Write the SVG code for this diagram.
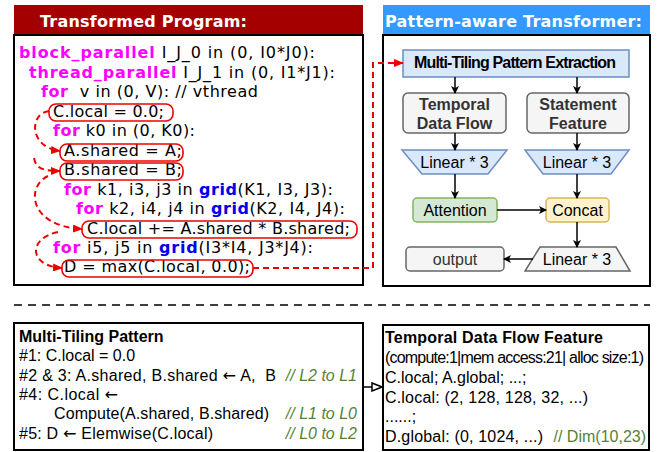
<svg xmlns="http://www.w3.org/2000/svg" width="670" height="452" viewBox="0 0 670 452">
<style>
.hdr{font-family:"DejaVu Sans",Verdana,sans-serif;font-weight:bold;font-size:16px;fill:#fff}
.code{font-family:"DejaVu Sans",Verdana,sans-serif;font-size:16px;fill:#000}
.kw{fill:#ff00ff;font-weight:bold}
.gr{fill:#0000ee;font-weight:bold}
.rbox{fill:none;stroke:#ee0000;stroke-width:1.6}
.frame{fill:#fff;stroke:#000;stroke-width:2}
.ar{font-family:"Liberation Sans",Arial,sans-serif;font-size:16px;fill:#000}
.arw{font-family:"DejaVu Sans",sans-serif}
.b{font-weight:bold}
.cm{fill:#548235;font-style:italic}
.cg{fill:#548235}
.blue{fill:#dae8fc;stroke:#6c8ebf;stroke-width:1.5}
.grey{fill:#f5f5f5;stroke:#666;stroke-width:1.5}
.conn{fill:none;stroke:#000;stroke-width:1.5;marker-end:url(#ah)}
.red{fill:none;stroke:#ee0000;stroke-width:2;stroke-dasharray:6 4;marker-end:url(#rh)}
</style>
<defs>
<marker id="ah" markerWidth="8" markerHeight="8" refX="7" refY="4" orient="auto" markerUnits="userSpaceOnUse"><path d="M0,0 L8,4 L0,8 L2,4 Z" fill="#000"/></marker>
<marker id="rh" markerWidth="10" markerHeight="8" refX="9" refY="4" orient="auto" markerUnits="userSpaceOnUse"><path d="M0,0 L10,4 L0,8 Z" fill="#ee0000"/></marker>
<marker id="oh" markerWidth="12" markerHeight="10" refX="11" refY="5" orient="auto" markerUnits="userSpaceOnUse"><path d="M1,1 L11,5 L1,9 Z" fill="#fff" stroke="#000" stroke-width="1.5"/></marker>
</defs>

<g id="program-panel">
<rect x="14" y="5" width="349" height="30" fill="#a50000"/>
<text class="hdr" x="40" y="27" textLength="207">Transformed Program:</text>
<rect class="frame" x="14" y="35" width="349" height="250"/>
<text class="code" x="19" y="58" textLength="296"><tspan class="kw">block_parallel</tspan> I_J_0 in (0, I0*J0):</text>
<text class="code" x="29" y="77.5" textLength="306"><tspan class="kw">thread_parallel</tspan> I_J_1 in (0, I1*J1):</text>
<text class="code" x="41" y="97" textLength="217"><tspan class="kw">for</tspan>&#160; v in (0, V): // vthread</text>
<text class="code" x="53" y="116.5" textLength="111">C.local = 0.0;</text>
<text class="code" x="53" y="136" textLength="142"><tspan class="kw">for</tspan> k0 in (0, K0):</text>
<text class="code" x="64" y="155.5" textLength="118">A.shared = A;</text>
<text class="code" x="64" y="175" textLength="118">B.shared = B;</text>
<text class="code" x="64" y="194.5" textLength="269"><tspan class="kw">for</tspan> k1, i3, j3 in <tspan class="gr">grid</tspan>(K1, I3, J3):</text>
<text class="code" x="76" y="214" textLength="269"><tspan class="kw">for</tspan> k2, i4, j4 in <tspan class="gr">grid</tspan>(K2, I4, J4):</text>
<text class="code" x="87" y="233.5" textLength="263">C.local += A.shared * B.shared;</text>
<text class="code" x="53" y="253" textLength="260"><tspan class="kw">for</tspan> i5, j5 in <tspan class="gr">grid</tspan>(I3*I4, J3*J4):</text>
<text class="code" x="64" y="272" textLength="186">D = max(C.local, 0.0);</text>
<rect class="rbox" x="49" y="104" width="124" height="17" rx="7"/>
<rect class="rbox" x="60" y="144" width="123" height="17" rx="7"/>
<rect class="rbox" x="60" y="163" width="123" height="17" rx="7"/>
<rect class="rbox" x="82" y="221" width="275" height="17" rx="7"/>
<rect class="rbox" x="62" y="260" width="191" height="17" rx="7"/>
</g>

<g id="transformer-panel">
<rect x="383" y="5" width="267" height="30" fill="#3399ff"/>
<text class="hdr" x="385" y="27" textLength="257">Pattern-aware Transformer:</text>
<rect class="frame" x="383" y="35" width="267" height="251"/>
</g>

<g id="mtpe">
<rect class="blue" x="403" y="50" width="226" height="27"/>
<text class="ar b" x="414" y="68" font-size="13" textLength="202">Multi-Tiling Pattern Extraction</text>
</g>
<g id="temporal">
<rect class="grey" x="403" y="93" width="103" height="40" rx="5"/>
<text class="ar b" x="454.5" y="109.5" font-size="15.5" text-anchor="middle" style="fill:#333">Temporal</text>
<text class="ar b" x="454.5" y="129" font-size="15.5" text-anchor="middle" style="fill:#333">Data Flow</text>
</g>
<g id="statement">
<rect class="grey" x="527" y="93" width="102" height="40" rx="5"/>
<text class="ar b" x="578" y="109.5" font-size="15.5" text-anchor="middle" style="fill:#333">Statement</text>
<text class="ar b" x="578" y="129" font-size="15.5" text-anchor="middle" style="fill:#333">Feature</text>
</g>
<g id="linear-left">
<path class="blue" d="M402,150 L507,150 L488,174 L422,174 Z"/>
<text class="ar" x="454.5" y="168" text-anchor="middle">Linear * 3</text>
</g>
<g id="linear-right">
<path class="blue" d="M525,150 L629,150 L611,174 L543,174 Z"/>
<text class="ar" x="577" y="168" text-anchor="middle">Linear * 3</text>
</g>
<g id="attention">
<rect x="413" y="198" width="84" height="24" rx="4" fill="#d5e8d4" stroke="#82b366" stroke-width="1.5"/>
<text class="ar" x="455" y="216" text-anchor="middle">Attention</text>
</g>
<g id="concat">
<rect x="546" y="198" width="63" height="24" rx="4" fill="#fff2cc" stroke="#d6b656" stroke-width="1.5"/>
<text class="ar" x="577.5" y="216" text-anchor="middle">Concat</text>
</g>
<g id="linear-out">
<path class="grey" d="M540,247 L616,247 L630,271 L525,271 Z"/>
<text class="ar" x="577" y="265" text-anchor="middle">Linear * 3</text>
</g>
<g id="output">
<rect class="grey" x="406" y="247" width="98" height="24" rx="4"/>
<text class="ar" x="455" y="265" text-anchor="middle" style="fill:#333">output</text>
</g>

<g id="pattern-box">
<rect class="frame" x="14" y="323" width="349" height="127"/>
<text class="ar b" x="19" y="342">Multi-Tiling Pattern</text>
<text class="ar" x="19" y="361.3">#1: C.local = 0.0</text>
<text class="ar" x="19" y="380.6" textLength="257">#2 &amp; 3: A.shared, B.shared <tspan class="arw">←</tspan> A,&#160; B</text>
<text class="ar cm" x="357" y="380.6" text-anchor="end">// L2 to L1</text>
<text class="ar" x="19" y="400" textLength="99">#4: C.local <tspan class="arw">←</tspan></text>
<text class="ar" x="54" y="419.3" textLength="215">Compute(A.shared, B.shared)</text>
<text class="ar cm" x="357" y="419.3" text-anchor="end">// L1 to L0</text>
<text class="ar" x="19" y="438.6" textLength="194">#5: D <tspan class="arw">←</tspan> Elemwise(C.local)</text>
<text class="ar cm" x="357" y="438.6" text-anchor="end">// L0 to L2</text>
</g>

<g id="feature-box">
<rect class="frame" x="383" y="325" width="266" height="125"/>
<text class="ar b" x="385" y="343" textLength="218">Temporal Data Flow Feature</text>
<text class="ar" x="385" y="363" font-size="13.5" textLength="259">(compute:1|mem access:21| alloc size:1)</text>
<text class="ar" x="385" y="382.5">C.local; A.global; ...;</text>
<text class="ar" x="385" y="402.5" textLength="203">C.local: (2, 128, 128, 32, ...)</text>
<text class="ar" x="385" y="422">......;</text>
<text class="ar" x="385" y="442" textLength="158">D.global: (0, 1024, ...)</text>
<text class="ar cg" x="646" y="442" text-anchor="end">// Dim(10,23)</text>
</g>

<g id="connectors">
<line x1="14" y1="305" x2="650" y2="305" stroke="#000" stroke-width="1.5" stroke-dasharray="8 6"/>
<path class="conn" d="M455,77 L455,93"/>
<path class="conn" d="M577,77 L577,93"/>
<path class="conn" d="M455,133 L455,150"/>
<path class="conn" d="M577,133 L577,150"/>
<path class="conn" d="M455,174 L455,198"/>
<path class="conn" d="M577,174 L577,198"/>
<path class="conn" d="M497,210 L546,210"/>
<path class="conn" d="M577,222 L577,247"/>
<path class="conn" d="M533,259 L504,259"/>
<path d="M363,387 L382,387" fill="none" stroke="#000" stroke-width="1.5" marker-end="url(#oh)"/>
<path class="red" d="M253,268 L373,268 L373,63 L403,63"/>
<path class="red" d="M49,111 C28,114 30,148 60,151"/>
<path class="red" d="M34,158 C36,168 42,171 60,171"/>
<path class="red" d="M48,176 C26,186 28,226 82,229"/>
<path class="red" d="M58,232 C28,238 28,266 62,268"/>
</g>
</svg>
